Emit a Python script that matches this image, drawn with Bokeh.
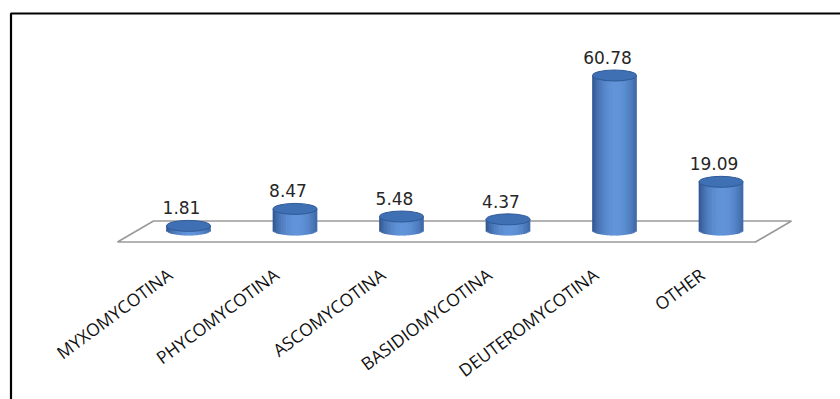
import math
from bokeh.plotting import figure
from bokeh.models import Range1d, ColumnDataSource
from bokeh.core.properties import value
from bokeh.embed import file_html
from bokeh.resources import INLINE

# ---- data ----
categories = ["MYXOMYCOTINA", "PHYCOMYCOTINA", "ASCOMYCOTINA",
              "BASIDIOMYCOTINA", "DEUTEROMYCOTINA", "OTHER"]
values = [1.81, 8.47, 5.48, 4.37, 60.78, 19.09]
value_labels = ["1.81", "8.47", "5.48", "4.37", "60.78", "19.09"]

# ---- layout (pixel geometry of the frame) ----
W, H = 840, 399
X0, DX = 188.0, 106.5      # pixel x of first category, spacing
Y0, K = 230.0, 2.55        # pixel y (from top) of value 0, pixels per unit

def dx(px):
    return (px - X0) / DX

def dy(py):
    return (Y0 - py) / K

p = figure(width=W, height=H, output_backend="svg", toolbar_location=None,
           x_range=Range1d(dx(0), dx(W)), y_range=Range1d(dy(H), dy(0)),
           min_border=0, outline_line_color=None)
p.axis.visible = False
p.grid.visible = False
p.background_fill_color = "white"
p.border_fill_color = "white"

# border (top and left)
p.line([dx(10.5), dx(10.5), dx(W + 5)], [dy(H + 5), dy(13), dy(13)],
       line_color="black", line_width=2.2)

# floor parallelogram
n = len(categories)
fx = [dx(117), dx(755), dx(791), dx(153)]
fy = [dy(241.5), dy(241.5), dy(220.5), dy(220.5)]
p.patch(fx, fy, fill_color="white", line_color="#9a9a9a", line_width=1.6)

# cylinders built from vertical strips
R_px, RY_px, N = 22.0, 5.0, 26
dark = (38, 74, 130)
light = (98, 148, 218)
sx, stop, sbot, sw, scol = [], [], [], [], []
for i, v in enumerate(values):
    for j in range(N):
        t = -1 + (2 * j + 1) / N
        f = max(0.0, math.cos(max(-1.0, min(1.0, (t - 0.08) / 1.12)) * math.pi / 2)) ** 0.7
        c = tuple(int(dark[k] + (light[k] - dark[k]) * f) for k in range(3))
        sx.append(i + t * R_px / DX)
        stop.append(v)
        sbot.append(-math.sqrt(max(0.0, 1 - t * t)) * RY_px / K)
        sw.append((2 * R_px / N + 0.7) / DX)
        scol.append("#%02x%02x%02x" % c)
strips = ColumnDataSource(dict(x=sx, top=stop, bottom=sbot, w=sw, c=scol))
p.vbar(x="x", top="top", bottom="bottom", width="w", source=strips,
       fill_color="c", line_color=None)

idx = list(range(n))
src = ColumnDataSource(dict(x=idx, y=values, lab=value_labels, cat=categories))
p.ellipse(x="x", y="y", width=2 * R_px, height=2 * RY_px + 1,
          width_units="screen", height_units="screen", source=src,
          fill_color="#3f70b4", line_color="#2e5a98", line_width=1)

# value labels
p.text(x="x", y="y", text="lab", source=src, x_offset=-7, y_offset=-18,
       text_align="center", text_baseline="alphabetic",
       text_font=value("DejaVu Sans"), text_font_size="17px", text_color="#262626")

# category labels
p.text(x="x", y=dy(262), text="cat", source=src, x_offset=-26,
       angle=math.radians(36.5), text_align="right", text_baseline="top",
       text_font=value("Open Sans"), text_font_size="17.5px", text_color="#111111")

open("out.html", "w").write(file_html(p, INLINE))
